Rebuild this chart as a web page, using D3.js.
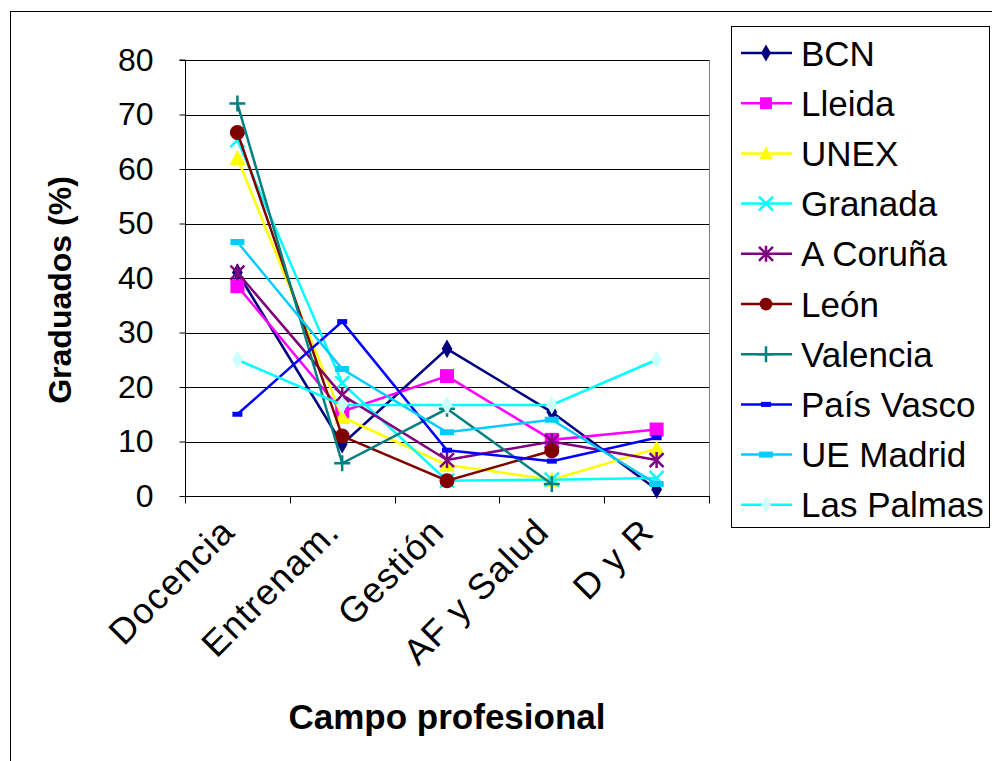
<!DOCTYPE html>
<html><head><meta charset="utf-8">
<script src="https://cdn.jsdelivr.net/npm/d3@7"></script>
<style>body{margin:0;background:#fff;} text{font-family:Arial,"Liberation Sans",sans-serif;}</style>
</head><body>
<svg id="c" width="992" height="761"></svg>
<script>
const categories = ["Docencia","Entrenam.","Gestión","AF y Salud","D y R"];
const seriesNames = ["BCN","Lleida","UNEX","Granada","A Coruña","León","Valencia","País Vasco","UE Madrid","Las Palmas"];
const bcn       = [41, 9.5, 27, 15.4, 1.2];
const lleida    = [38.5, 15.5, 22, 10.3, 12.2];
const unex      = [62, 14.5, 5.7, 3, 8.7];
const granada   = [65.3, 20.7, 2.8, 3, 3.3];
const acoruna   = [41, 18.5, 6.6, 10, 6.6];
const leon      = [66.7, 11, 2.8, 8.3, null];
const valencia  = [72, 6, 16, 2.2, null];
const paisvasco = [15, 32, 8.4, 6.4, 10.7];
const uemadrid  = [46.6, 23.3, 11.7, 14, 2.2];
const laspalmas = [25, 16.7, 16.7, 16.7, 25];
const yTicks = [0,10,20,30,40,50,60,70,80];
const allValues = [bcn,lleida,unex,granada,acoruna,leon,valencia,paisvasco,uemadrid,laspalmas];
const lineColors = ["#000080","#FF00FF","#FFFF00","#00FFFF","#800080","#800000","#008080","#0000FF","#00CCFF","#00FFFF"];
const markerColors = ["#000080","#FF00FF","#FFFF00","#00FFFF","#800080","#800000","#008080","#0000FF","#00CCFF","#CCFFFF"];
const markerTypes = ["diamond","square","triangle","x","star","circle","plus","dashS","dashL","diamond"];

const svg = d3.select("#c");
svg.append("rect").attr("x",10.5).attr("y",11.5).attr("width",1000).attr("height",800).attr("fill","#fff").attr("stroke","#000");

const L=185, R=709, T=60, B=496;
const x = d3.scaleBand().domain(categories).range([L,R]);
const y = d3.scaleLinear().domain([0,80]).range([B,T]);

// gridlines
svg.append("g").selectAll("line").data(yTicks.filter(d=>d>0)).join("line")
  .attr("x1",L).attr("x2",R).attr("y1",d=>Math.round(y(d))+0.5).attr("y2",d=>Math.round(y(d))+0.5)
  .attr("stroke","#000").attr("stroke-width",1);
svg.append("line").attr("x1",R+0.5).attr("x2",R+0.5).attr("y1",T).attr("y2",B).attr("stroke","#808080");

// y axis
const ya = svg.append("g").attr("transform",`translate(${L+0.5},0)`)
  .call(d3.axisLeft(y).tickValues(yTicks).tickSize(6).tickPadding(26));
ya.selectAll("text").attr("font-size",32).attr("fill","#000").attr("font-family","Arial, 'Liberation Sans', sans-serif");
ya.selectAll("line,path").attr("stroke","#000");
ya.select("path").attr("d",`M-6,${T}H0V${B+0.5}`);

// x axis
const xa = svg.append("g").attr("transform",`translate(0,${B+0.5})`);
xa.append("line").attr("x1",L).attr("x2",R+1).attr("stroke","#000");
const bounds = categories.map(c=>x(c)).concat([R]);
xa.selectAll("line.t").data(bounds).join("line").attr("class","t")
  .attr("x1",d=>Math.round(d)+0.5).attr("x2",d=>Math.round(d)+0.5).attr("y1",0).attr("y2",7).attr("stroke","#000");
xa.selectAll("text").data(categories).join("text")
  .attr("transform",d=>`translate(${x(d)+x.bandwidth()/2-19},${19}) rotate(-45)`)
  .attr("text-anchor","end").attr("dy","0.72em").attr("font-size",36).attr("letter-spacing",1.2)
  .attr("fill","#000").text(d=>d);

// axis titles
svg.append("text").attr("transform","translate(71,290) rotate(-90)").attr("text-anchor","middle")
  .attr("font-size",32).attr("font-weight","bold").text("Graduados (%)");
svg.append("text").attr("x",447).attr("y",729).attr("text-anchor","middle")
  .attr("font-size",35).attr("font-weight","bold").text("Campo profesional");

function marker(g, type, fill, s){
  s = s||1;
  switch(type){
    case "diamond": g.append("path").attr("d",d3.symbol(d3.symbolDiamond,100*s)()).attr("fill",fill); break;
    case "square": g.append("rect").attr("x",-7*s).attr("y",-7*s).attr("width",14*s).attr("height",14*s).attr("fill",fill); break;
    case "triangle": g.append("path").attr("d",`M0,${-8*s}L${8*s},${7*s}L${-8*s},${7*s}Z`).attr("fill",fill); break;
    case "x": g.append("path").attr("d",`M-7,-7L7,7M-7,7L7,-7`).attr("stroke",fill).attr("stroke-width",2.5).attr("fill","none"); break;
    case "star": g.append("path").attr("d",`M-7,-7L7,7M-7,7L7,-7M0,-8V8`).attr("stroke",fill).attr("stroke-width",2.5).attr("fill","none"); break;
    case "circle": g.append("circle").attr("r",7.5*s).attr("fill",fill); break;
    case "plus": g.append("path").attr("d",`M-8,0H8M0,-8V8`).attr("stroke",fill).attr("stroke-width",2.5).attr("fill","none"); break;
    case "dashS": g.append("rect").attr("x",-5).attr("y",-2.5).attr("width",10).attr("height",5).attr("fill",fill); break;
    case "dashL": g.append("rect").attr("x",-7).attr("y",-3).attr("width",14).attr("height",6).attr("fill",fill); break;
  }
}

const line = d3.line().defined(d=>d.v!=null).x(d=>x(d.c)+x.bandwidth()/2).y(d=>y(d.v));
seriesNames.forEach((name,i)=>{
  const pts = categories.map((c,j)=>({c, v: allValues[i][j]}));
  svg.append("path").datum(pts).attr("d",line).attr("fill","none")
    .attr("stroke",lineColors[i]).attr("stroke-width",2.5);
  pts.filter(p=>p.v!=null).forEach(p=>{
    const g = svg.append("g").attr("transform",`translate(${x(p.c)+x.bandwidth()/2},${y(p.v)})`);
    marker(g, markerTypes[i], markerColors[i]);
  });
});

// legend
const lg = svg.append("g");
lg.append("rect").attr("x",731.5).attr("y",26.5).attr("width",258).attr("height",501).attr("fill","#fff").attr("stroke","#000");
seriesNames.forEach((name,i)=>{
  const yy = 53 + i*50.2;
  lg.append("line").attr("x1",741).attr("x2",792).attr("y1",yy).attr("y2",yy).attr("stroke",lineColors[i]).attr("stroke-width",2.5);
  const g = lg.append("g").attr("transform",`translate(766,${yy})`);
  marker(g, markerTypes[i], markerColors[i], 0.85);
  lg.append("text").attr("x",801).attr("y",yy).attr("dy","0.36em").attr("font-size",35).attr("fill","#000").text(name);
});
</script>
</body></html>
